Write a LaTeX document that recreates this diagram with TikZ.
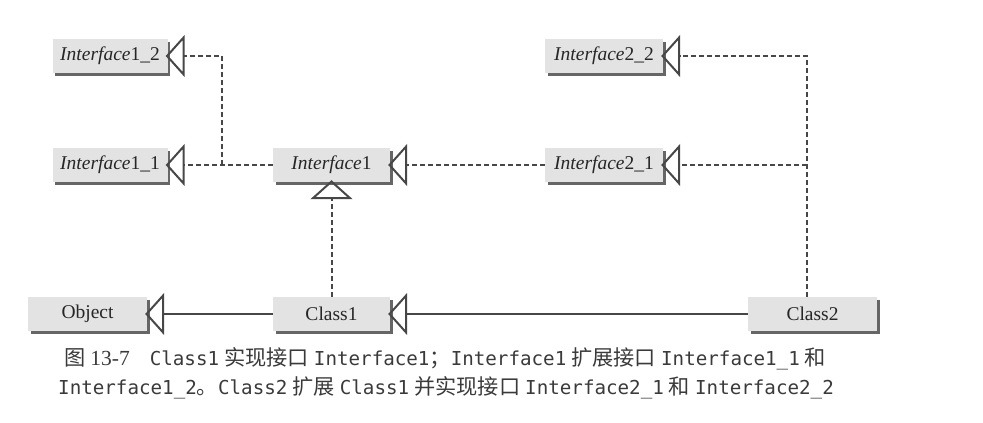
\documentclass[tikz,border=0pt]{standalone}
\usepackage{fontspec}
\setmainfont{Liberation Serif}
\newfontfamily\cjk{Noto Sans CJK SC}
\newfontfamily\codefont{DejaVu Sans Mono}
\usetikzlibrary{arrows.meta,shadows}
\definecolor{boxfill}{HTML}{E3E3E3}
\definecolor{ln}{HTML}{474747}
\definecolor{capcol}{HTML}{3A3A3A}
\newcommand{\ifc}[1]{{\itshape Interface}#1}
\newcommand{\cd}[1]{{\codefont\fontsize{19.2}{21}\selectfont #1}}
\newcommand{\zh}[1]{{\cjk\fontsize{21.2}{23}\selectfont #1}}
\newcommand{\gp}{\hspace{5pt}}
\begin{document}
\begin{tikzpicture}[x=1pt,y=-1pt,
  box/.style={fill=boxfill, inner sep=0pt, minimum height=34pt,
    font=\fontsize{19.5}{22}\selectfont, text=black!85,
    drop shadow={shadow xshift=2.5pt, shadow yshift=-2.5pt, fill=black!60, opacity=1}},
  conn/.style={draw=ln, line width=2pt},
  dashconn/.style={conn, dash pattern=on 5pt off 3pt},
  realize/.style={-{Triangle[open,length=19pt,width=42pt,line width=2pt]}},
  caption/.style={anchor=base west, inner sep=0pt, text=capcol, font=\fontsize{21.5}{24}\selectfont}
]
\useasboundingbox (0,0) rectangle (983,423);
% nodes
\node[box, minimum width=115pt] (i12) at (110,56) {\ifc{1\_2}};
\node[box, minimum width=115pt] (i11) at (110,165) {\ifc{1\_1}};
\node[box, minimum width=117pt] (i1) at (331.5,165) {\ifc{1}};
\node[box, minimum width=118pt] (i22) at (604,56) {\ifc{2\_2}};
\node[box, minimum width=118pt] (i21) at (604,165) {\ifc{2\_1}};
\node[box, minimum width=119pt] (obj) at (87.5,314) {Object};
\node[box, minimum width=117pt] (c1) at (331.5,314) {Class1};
\node[box, minimum width=129pt] (c2) at (812.5,314) {Class2};
% junctions
\coordinate (j1) at (222,165);
\coordinate (j2) at (807,165);
\coordinate (j3) at (807,56);
% connectors
\draw[dashconn, realize, shorten >=-2pt] (i1.west) -- (i11.east);
\draw[dashconn, realize, shorten >=-2pt] (j1) |- (i12.east);
\draw[dashconn, realize, shorten >=-2pt] (i21.west) -- (i1.east);
\draw[dashconn, realize, shorten >=-2pt] (c1.north) -- (i1.south);
\draw[dashconn, realize, shorten >=-2pt] (c2.north -| j3) -- (j3) -- (i22.east);
\draw[dashconn, realize, shorten >=-2pt] (j2) -- (i21.east);
\draw[conn, realize, shorten >=-2pt] (c1.west) -- (obj.east);
\draw[conn, realize, shorten >=-2pt] (c2.west) -- (c1.east);
% caption
\node[caption] (cap1) at (64,365) {\zh{图}\gp 13-7\hspace{20pt}\cd{Class1}\gp\zh{实现接口}\gp\cd{Interface1}\zh{；}\cd{Interface1}\gp\zh{扩展接口}\gp\cd{Interface1\_1}\gp\zh{和}};
\node[caption] (cap2) at (58,394) {\cd{Interface1\_2}\zh{。}\cd{Class2}\gp\zh{扩展}\gp\cd{Class1}\gp\zh{并实现接口}\gp\cd{Interface2\_1}\gp\zh{和}\gp\cd{Interface2\_2}};
\end{tikzpicture}
\end{document}
